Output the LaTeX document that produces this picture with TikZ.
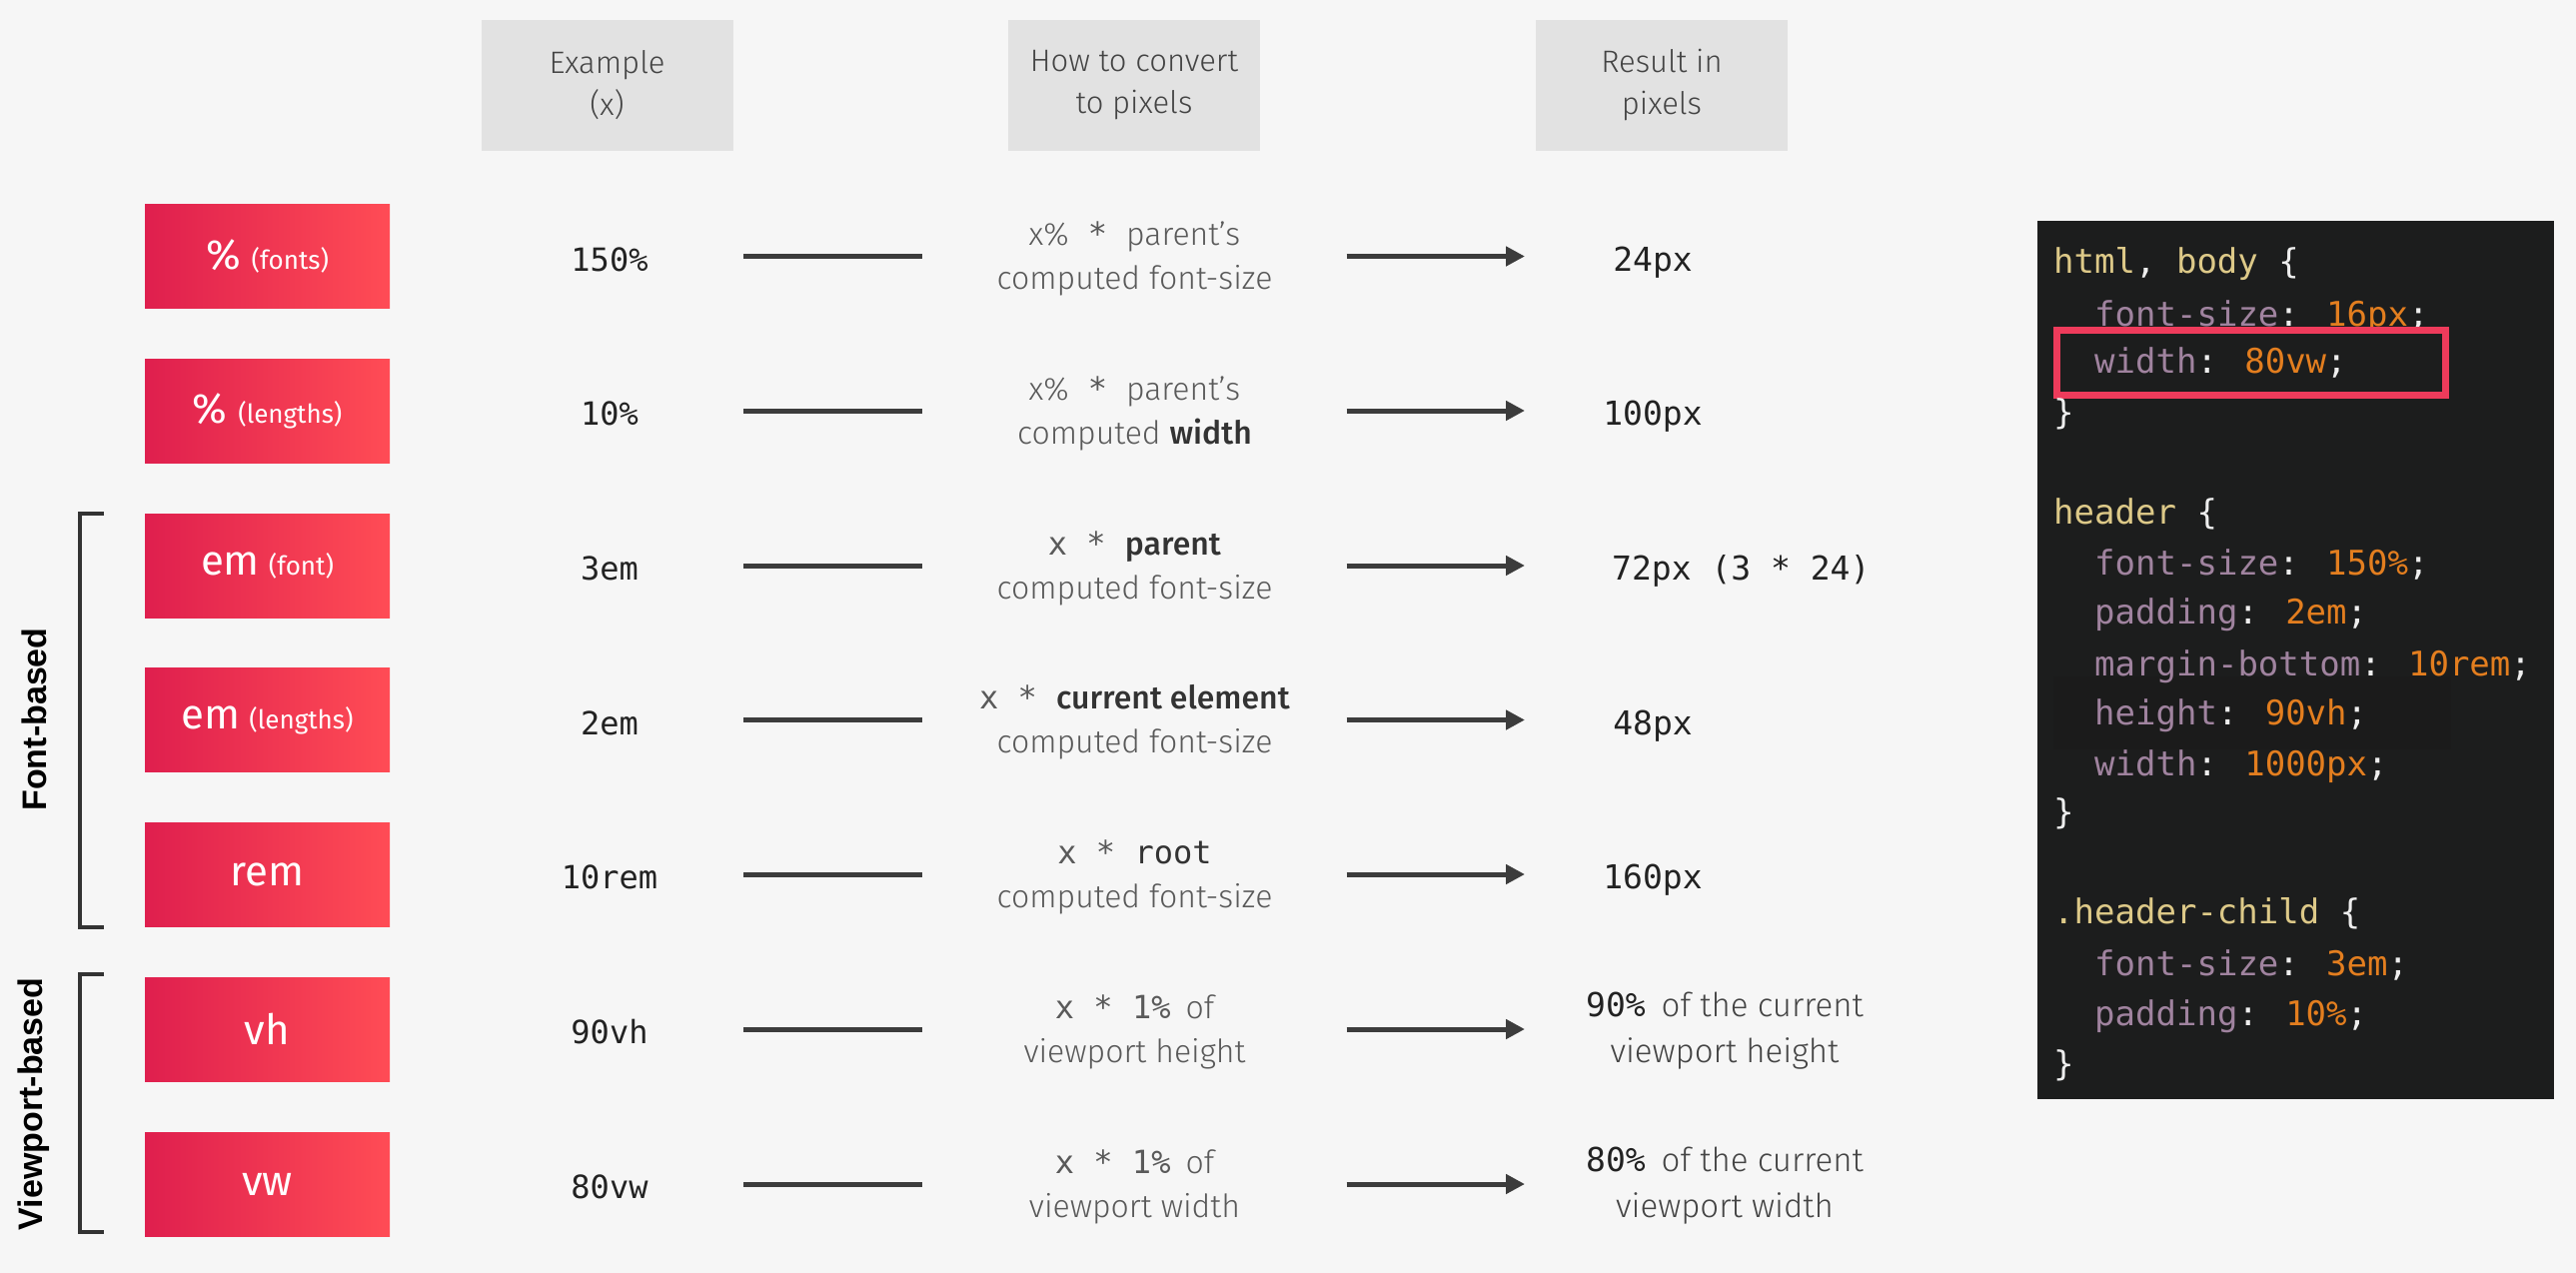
\documentclass[tikz,border=0pt]{standalone}
\usepackage{fontspec}
\IfFontExistsTF{Fira Sans Light}{%
  \setmainfont{Fira Sans Light}[BoldFont={Fira Sans Medium}]%
}{\setmainfont{Fira Sans}}
\newfontfamily\regf{Fira Sans}
\newfontfamily\monof{DejaVu Sans Mono}
\newfontfamily\grpf{Liberation Sans}
\usetikzlibrary{arrows.meta,calc}
\definecolor{bg}{HTML}{F6F6F6}
\definecolor{headgray}{HTML}{E2E2E2}
\definecolor{headtext}{HTML}{444444}
\definecolor{redL}{HTML}{DF1F4E}
\definecolor{redR}{HTML}{FF4C55}
\definecolor{dark}{HTML}{222222}
\definecolor{convgray}{HTML}{5A5A5A}
\definecolor{boldgray}{HTML}{333333}
\definecolor{linegray}{HTML}{3C3C3C}
\definecolor{codebg}{HTML}{1C1D1D}
\definecolor{codeband}{HTML}{1B1B1B}
\definecolor{cyel}{HTML}{DDC988}
\definecolor{cpur}{HTML}{A0839F}
\definecolor{cora}{HTML}{E37E1F}
\definecolor{cwht}{HTML}{EEEEEE}
\definecolor{hlred}{HTML}{EE3B5B}
\newcommand\mo[1]{{\monof #1}}
\newcommand\cy[1]{\textcolor{cyel}{#1}}
\newcommand\cpu[1]{\textcolor{cpur}{#1}}
\newcommand\cor[1]{\textcolor{cora}{#1}}
\newcommand\cwh[1]{\textcolor{cwht}{#1}}
\newcommand\boldg[1]{\textcolor{boldgray}{\textbf{#1}}}
\newcommand\ubig[1]{{\fontsize{42}{42}\selectfont #1}}
\newcommand\usml[1]{{\fontsize{26}{26}\selectfont #1}}
\tikzset{
  unitbox/.style={rectangle, minimum width=245pt, minimum height=104pt, inner sep=0pt,
    left color=redL, right color=redR, text=white, font=\regf},
  headbox/.style={rectangle, fill=headgray, minimum width=252pt, minimum height=131pt,
    inner sep=0pt, align=center, text=headtext, font=\fontsize{31}{42}\selectfont},
  exnode/.style={anchor=base, minimum width=268pt, inner sep=0pt, text=dark,
    font=\monof\fontsize{32}{32}\selectfont},
  convnode/.style={align=center, minimum width=424pt, inner sep=0pt, text=convgray,
    font=\fontsize{32}{44}\selectfont},
  resmono/.style={anchor=base, inner sep=0pt, text=dark, font=\monof\fontsize{33}{33}\selectfont},
  restwo/.style={align=center, inner sep=0pt, text=headtext, font=\fontsize{33}{46}\selectfont},
  conn/.style={line width=5pt, draw=linegray},
  arr/.style={line width=5pt, draw=linegray, -{Triangle[length=19pt,width=19pt]}},
  brk/.style={line width=4pt, draw=boldgray},
  grp/.style={rotate=90, inner sep=0pt, text=black, font=\grpf\bfseries\fontsize{34}{34}\selectfont},
  codeline/.style={anchor=base west, inner sep=0pt, font=\monof\fontsize{34}{34}\selectfont},
  hlbox/.style={draw=hlred, line width=7pt, fill=codebg},
}
\begin{document}
\begin{tikzpicture}[x=1pt,y=-1pt]
\useasboundingbox (0,0) rectangle (2578,1274);
\fill[bg] (0,0) rectangle (2578,1274);

% headers
\node[headbox] (hex) at (607.5,85) {Example\\(x)};
\node[headbox] (hconv) at (1135,85) {How to convert\\to pixels};
\node[headbox] (hres) at (1663,85) {Result in\\pixels};

% row coordinates
\coordinate (y1) at (0,256.5);
\coordinate (y2) at (0,411);
\coordinate (y3) at (0,566);
\coordinate (y4) at (0,720.5);
\coordinate (y5) at (0,875);
\coordinate (y6) at (0,1030);
\coordinate (y7) at (0,1185);

% unit boxes
\node[unitbox] (u1) at (267.5,256.5) {\ubig{\%}\hspace{11pt}\usml{(fonts)}};
\node[unitbox] (u2) at (267.5,411) {\ubig{\%}\hspace{11pt}\usml{(lengths)}};
\node[unitbox] (u3) at (267.5,566) {\ubig{em}\hspace{9pt}\usml{(font)}};
\node[unitbox] (u4) at (267.5,720.5) {\ubig{em}\hspace{9pt}\usml{(lengths)}};
\node[unitbox] (u5) at (267.5,875) {\ubig{rem}};
\node[unitbox] (u6) at (267.5,1030) {\ubig{vh}};
\node[unitbox] (u7) at (267.5,1185) {\ubig{vw}};

% group brackets
\draw[brk] (104,514) -- (80,514) -- (80,928) -- (104,928);
\draw[brk] (104,975) -- (80,975) -- (80,1233) -- (104,1233);
\node[grp] (g1) at (34,720) {Font-based};
\node[grp] (g2) at (34,1105) {Viewport-based};

% examples
\node[exnode] (e1) at (610,271) {150\%};
\node[exnode] (e2) at (610,425.5) {10\%};
\node[exnode] (e3) at (610,580.5) {3em};
\node[exnode] (e4) at (610,735) {2em};
\node[exnode] (e5) at (610,889.5) {10rem};
\node[exnode] (e6) at (610,1044.5) {90vh};
\node[exnode] (e7) at (610,1199.5) {80vw};

% conversions
\node[convnode] (c1) at (1135.5,259) {x\%\hspace{19pt}\mo{*}\hspace{19pt}parent’s\\computed font-size};
\node[convnode] (c2) at (1135.5,413.5) {x\%\hspace{19pt}\mo{*}\hspace{19pt}parent’s\\computed \boldg{width}};
\node[convnode] (c3) at (1135.5,568.5) {\mo{x * }\boldg{parent}\\computed font-size};
\node[convnode] (c4) at (1135.5,723) {\mo{x * }\boldg{current element}\\computed font-size};
\node[convnode] (c5) at (1135.5,877.5) {\mo{x * \textcolor{boldgray}{root}}\\computed font-size};
\node[convnode] (c6) at (1135.5,1032.5) {\mo{x * 1\%}\hspace{15pt}of\\viewport height};
\node[convnode] (c7) at (1135.5,1187.5) {\mo{x * 1\%}\hspace{15pt}of\\viewport width};

% arrow tips
\coordinate (t1) at (1526,256.5);
\coordinate (t2) at (1526,411);
\coordinate (t3) at (1526,566);
\coordinate (t4) at (1526,720.5);
\coordinate (t5) at (1526,875);
\coordinate (t6) at (1526,1030);
\coordinate (t7) at (1526,1185);

% connectors
\foreach \i in {1,...,7}{
  \draw[conn] (e\i.east |- y\i) -- (c\i.west |- y\i);
  \draw[arr] (c\i.east |- y\i) -- (t\i);
}

% results
\node[resmono] (r1) at (1654,271) {24px};
\node[resmono] (r2) at (1654,425) {100px};
\node[resmono, anchor=base west] (r3) at (1613,580) {72px (3 * 24)};
\node[resmono] (r4) at (1654,735) {48px};
\node[resmono] (r5) at (1654,889) {160px};
\node[restwo] (r6) at (1726,1032) {\textcolor{dark}{\mo{90\%}}\hspace{16pt}of the current\\viewport height};
\node[restwo] (r7) at (1726,1187) {\textcolor{dark}{\mo{80\%}}\hspace{16pt}of the current\\viewport width};

% code panel
\fill[codebg] (2039,221) rectangle (2556,1100);
\fill[codeband] (2055,677) rectangle (2453,750);
\node[codeline] (k1) at (2055,273) {\cy{html}\cwh{,} \cy{body} \cwh{\{}};
\node[codeline] (k2) at (2096,326) {\cpu{font-size}\cwh{:} \cor{16px}\cwh{;}};
\draw[hlbox] (2058,330) rectangle (2447,395);
\node[codeline] (k3) at (2096,373) {\cpu{width}\cwh{:} \cor{80vw}\cwh{;}};
\node[codeline] (k4) at (2055,424) {\cwh{\}}};
\node[codeline] (k5) at (2055,524) {\cy{header} \cwh{\{}};
\node[codeline] (k6) at (2096,575) {\cpu{font-size}\cwh{:} \cor{150\%}\cwh{;}};
\node[codeline] (k7) at (2096,624) {\cpu{padding}\cwh{:} \cor{2em}\cwh{;}};
\node[codeline] (k8) at (2096,676) {\cpu{margin-bottom}\cwh{:} \cor{10rem}\cwh{;}};
\node[codeline] (k9) at (2096,725) {\cpu{height}\cwh{:} \cor{90vh}\cwh{;}};
\node[codeline] (k10) at (2096,776) {\cpu{width}\cwh{:} \cor{1000px}\cwh{;}};
\node[codeline] (k11) at (2055,824) {\cwh{\}}};
\node[codeline] (k12) at (2055,924) {\cy{.header-child} \cwh{\{}};
\node[codeline] (k13) at (2096,976) {\cpu{font-size}\cwh{:} \cor{3em}\cwh{;}};
\node[codeline] (k14) at (2096,1026) {\cpu{padding}\cwh{:} \cor{10\%}\cwh{;}};
\node[codeline] (k15) at (2055,1076) {\cwh{\}}};
\end{tikzpicture}
\end{document}
